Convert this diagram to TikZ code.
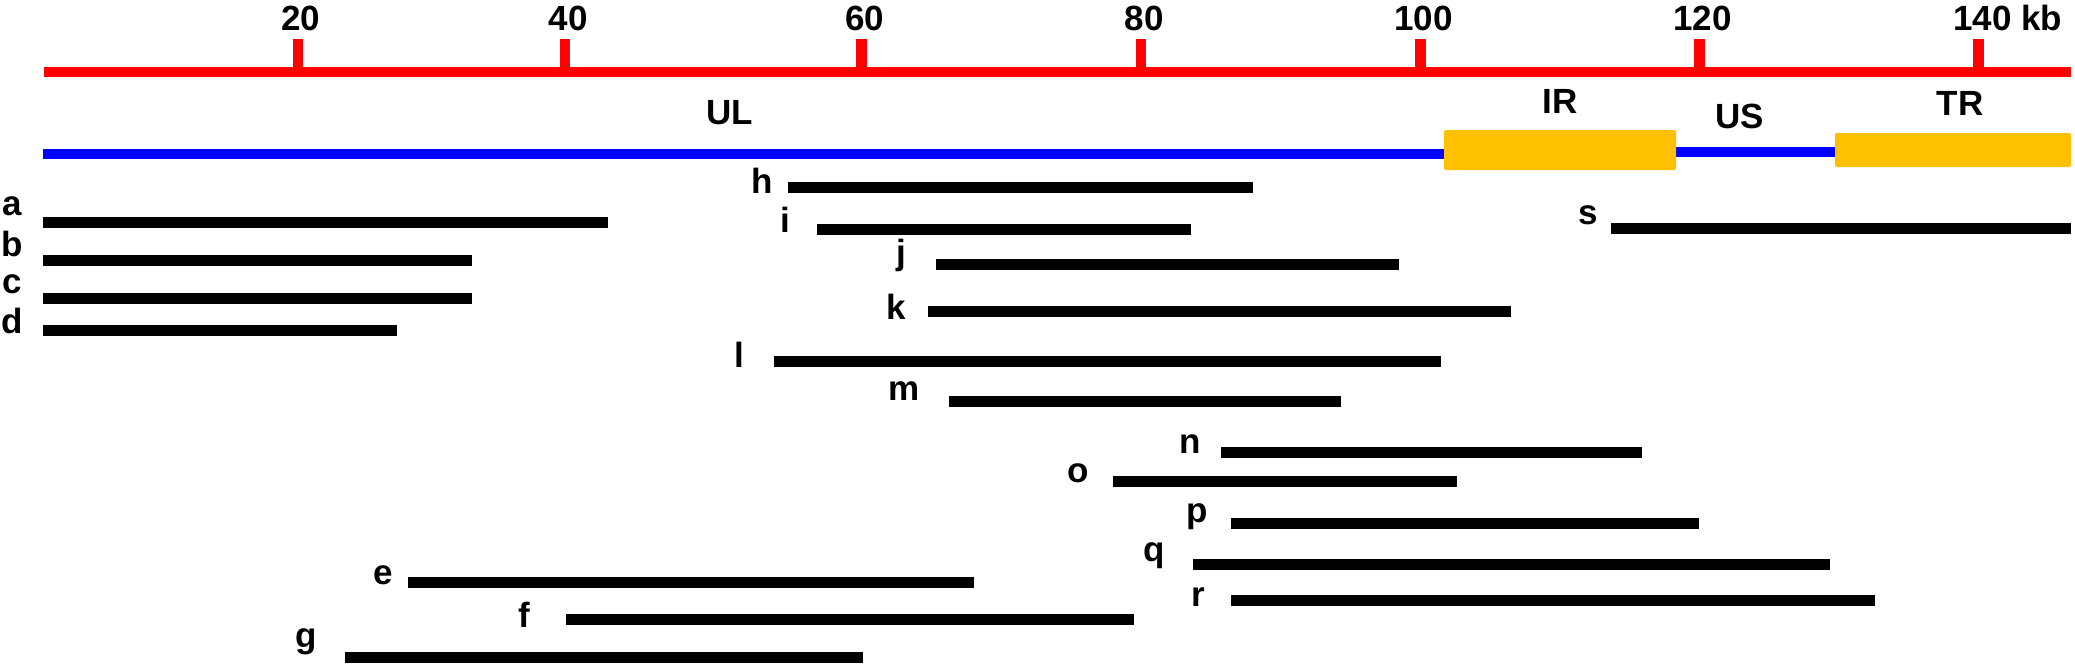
\documentclass[tikz,border=0pt]{standalone}
\usepackage{fontspec}
\setmainfont{Liberation Sans}
\definecolor{gold}{HTML}{FFC000}
\definecolor{axisred}{HTML}{FF0000}
\definecolor{genblue}{HTML}{0000FF}
\begin{document}
\begin{tikzpicture}[x=1pt,y=-1pt,
  lbl/.style={font=\fontsize{35}{42}\selectfont\bfseries, inner sep=0pt, anchor=base},
  bar/.style={line width=11pt, black},
  axisline/.style={line width=10.6pt, axisred},
  tick/.style={line width=10.6pt, axisred},
  genome/.style={line width=10.6pt, genblue},
  repeatbox/.style={fill=gold, draw=none, rounded corners=2pt}]
\useasboundingbox (0,0) rectangle (2075,667);
% scale axis
\draw[axisline] (44,72) -- (2071,72);
\foreach \x/\t [count=\i] in {298/20,565/40,861.5/60,1141/80,1420.5/100,1699.5/120} {
  \draw[tick] (\x,39) -- (\x,72);
  \node[lbl] (t\i) at (\x+3,30) {\t};
}
\draw[tick] (1978.5,39) -- (1978.5,72);
\node[lbl, anchor=base west] (t7) at (1953,30) {140 kb};
% genome
\draw[genome] (43,154) -- (1446,154);
\draw[genome] (1674,152) -- (1837,152);
\fill[repeatbox] (1444,130) rectangle (1676,170);
\fill[repeatbox] (1835,133) rectangle (2071,167);
\node[lbl] (UL) at (730,124) {UL};
\node[lbl] (IR) at (1560,113) {IR};
\node[lbl] (US) at (1740,128) {US};
\node[lbl] (TR) at (1960,115) {TR};
% fragments
\foreach \n/\xa/\xb/\y/\lx/\ly in {
  a/43/608/222/12/215,
  b/43/472/260.5/12/256,
  c/43/472/298.5/12/293,
  d/43/397/330.5/12/333,
  e/408/974/582/383/584,
  f/566/1134/619/524/627,
  g/345/863/657/306/647,
  h/788/1253/187.5/762/193,
  i/817/1191/229/785/232,
  j/936/1399/264/901/264,
  k/928/1511/311/896/319,
  l/774/1441/361.5/739/367,
  m/949/1341/401/904/400,
  n/1221/1642/452.7/1190/453,
  o/1113/1457/481.5/1078/482,
  p/1231/1699/523/1197/522,
  q/1193/1830/564/1154/561,
  r/1231/1875/600/1198/606,
  s/1611/2071/228/1588/224} {
  \draw[bar] (\xa,\y) -- (\xb,\y);
  \node[lbl] (lab\n) at (\lx,\ly) {\n};
}
\end{tikzpicture}
\end{document}
